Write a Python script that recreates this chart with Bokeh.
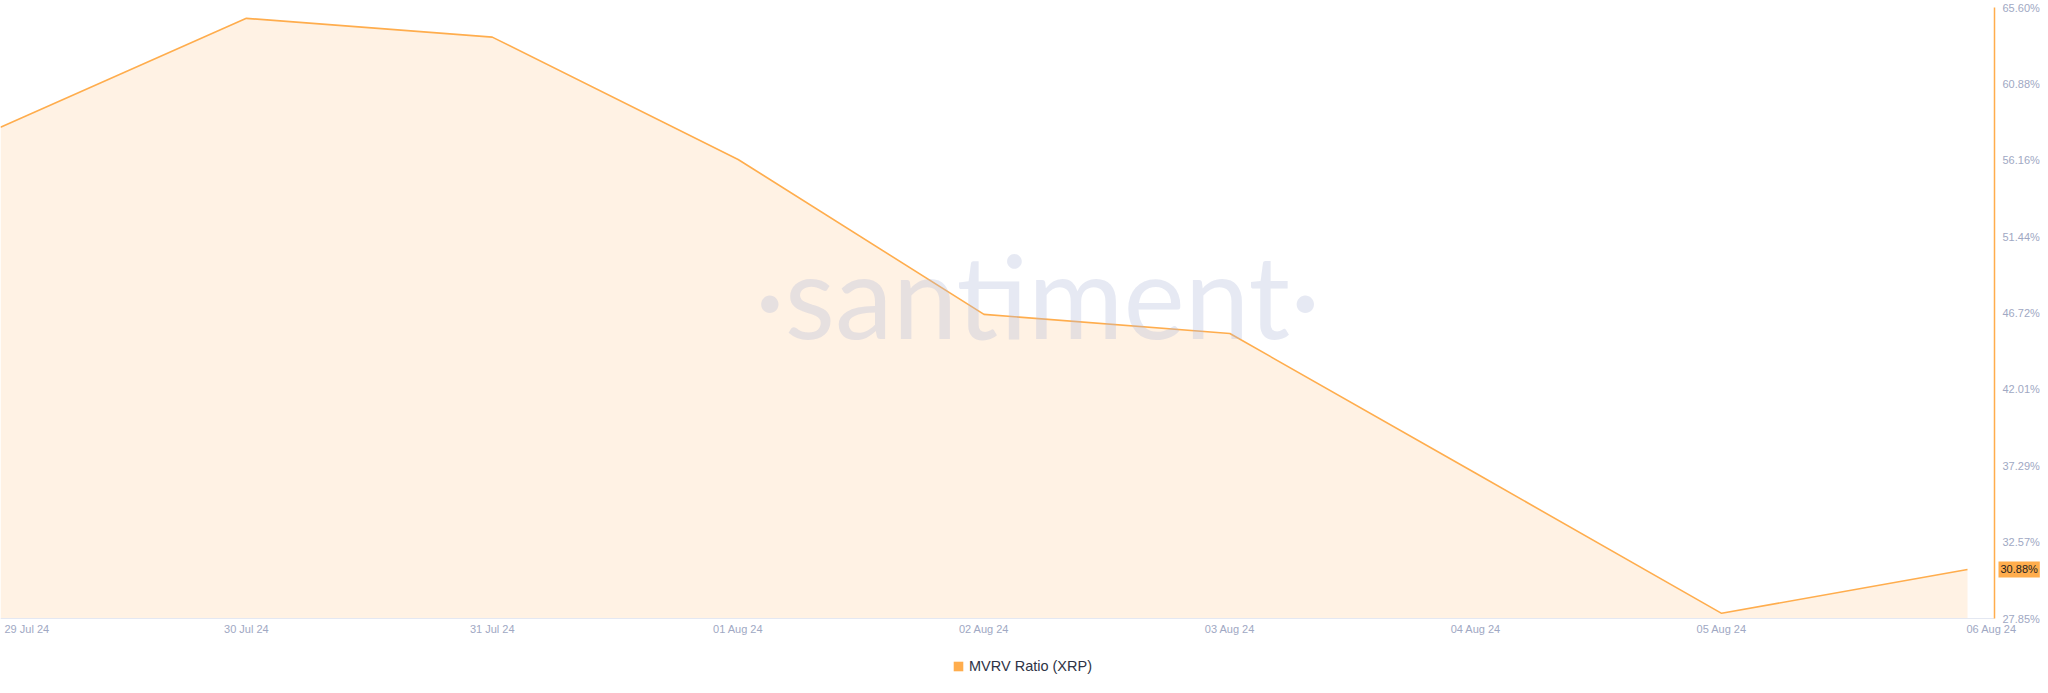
from datetime import datetime, timedelta

from bokeh.embed import file_html
from bokeh.models import (FixedTicker, Label, Legend, LegendItem, PrintfTickFormatter,
                          Range1d, ColumnDataSource)
from bokeh.plotting import figure
from bokeh.resources import INLINE

# ---- data ----
dates = ["2024-07-29", "2024-07-30", "2024-07-31", "2024-08-01", "2024-08-02",
         "2024-08-03", "2024-08-04", "2024-08-05", "2024-08-06"]
date_labels = ["29 Jul 24", "30 Jul 24", "31 Jul 24", "01 Aug 24", "02 Aug 24",
               "03 Aug 24", "04 Aug 24", "05 Aug 24", "06 Aug 24"]
mvrv_pct = [58.20, 64.93, 63.77, 56.21, 46.64, 45.46, 36.82, 28.17, 30.88]
y_ticks = [27.85, 32.57, 37.29, 42.01, 46.72, 51.44, 56.16, 60.88, 65.60]
series_name = "MVRV Ratio (XRP)"
watermark = "\u00b7santiment\u00b7"

# ---- styles ----
ORANGE = "#ffad4d"
FILL = "#fff2e4"
TICK_COLOR = "#a0a8c3"
FONT = "Liberation Sans"

W, H = 2040, 685
TOP_PAD, AXIS_Y = 7, 618          # pixel rows of the top and bottom y ticks
PX_PER_PCT = (AXIS_Y - TOP_PAD) / (y_ticks[-1] - y_ticks[0])
PX_PER_DAY = 1967 / 8.0

x = [datetime.strptime(d, "%Y-%m-%d") for d in dates]
epoch = datetime(1970, 1, 1)
x_ms = [(d - epoch).total_seconds() * 1000 for d in x]
axis_x = x[-1] + timedelta(days=27 / PX_PER_DAY)      # where the value axis is drawn
axis_x_ms = (axis_x - epoch).total_seconds() * 1000
x_end = x[0] + timedelta(days=W / PX_PER_DAY)
y_start = y_ticks[0] - (H - AXIS_Y) / PX_PER_PCT
y_end = y_ticks[-1] + TOP_PAD / PX_PER_PCT

src = ColumnDataSource(dict(x=x, y=mvrv_pct, base=[y_ticks[0]] * len(x)))

p = figure(width=W, height=H, x_axis_type="datetime", y_axis_location="right",
           output_backend="svg", toolbar_location=None,
           x_range=Range1d(x[0], x_end), y_range=Range1d(y_start, y_end),
           min_border=0)
p.outline_line_color = None
p.grid.visible = False
p.background_fill_color = "white"
p.border_fill_color = "white"

p.varea(x="x", y1="base", y2="y", source=src, fill_color=FILL)
p.line(x="x", y="y", source=src, line_color=ORANGE, line_width=1.6)

# x axis
xa = p.xaxis[0]
xa.fixed_location = y_ticks[0]
xa.bounds = (x_ms[0], axis_x_ms)
xa.ticker = FixedTicker(ticks=x_ms)
overrides = {t: lab for t, lab in zip(x_ms, date_labels)}
overrides[x_ms[0]] = ""
overrides[x_ms[-1]] = ""
xa.major_label_overrides = overrides
xa.axis_line_color = "#e4e8f2"
xa.major_tick_line_color = None
xa.minor_tick_line_color = None
xa.major_label_text_color = TICK_COLOR
xa.major_label_text_font = FONT
xa.major_label_text_font_size = "11px"
xa.major_label_standoff = -2

for xv, lab, off in [(x[0], date_labels[0], 4), (x[-1], date_labels[-1], -1)]:
    p.add_layout(Label(x=xv, y=y_ticks[0], x_units="data", y_units="data", x_offset=off,
                       y_offset=-4, text=lab, text_align="left", text_baseline="top",
                       text_color=TICK_COLOR, text_font=FONT, text_font_size="11px"))

# y axis (right)
ya = p.yaxis[0]
ya.fixed_location = axis_x_ms
ya.bounds = (y_ticks[0], y_ticks[-1])
ya.ticker = FixedTicker(ticks=y_ticks)
ya.formatter = PrintfTickFormatter(format="%.2f%%")
ya.axis_line_color = ORANGE
ya.axis_line_width = 1.5
ya.major_tick_line_color = None
ya.minor_tick_line_color = None
ya.major_label_text_color = TICK_COLOR
ya.major_label_text_font = FONT
ya.major_label_text_font_size = "11px"
ya.major_label_standoff = 2

# last value badge
p.add_layout(Label(x=axis_x, y=mvrv_pct[-1], x_units="data", y_units="data",
                   x_offset=4, text=f"{mvrv_pct[-1]:.2f}%", text_align="left",
                   text_baseline="middle", text_color="#1d1d1f", text_font=FONT,
                   text_font_size="11px", background_fill_color=ORANGE,
                   padding=2))

# watermark
p.add_layout(Label(x=1037, y=391, x_units="screen", y_units="screen", text=watermark,
                   text_align="center", text_baseline="alphabetic",
                   text_font="Lato", text_font_size="116px",
                   text_color="#acb6d7", text_alpha=0.3))

# legend (swatch renderer built from the last data point; draws nothing itself)
swatch = p.varea(x=x[-1:], y1=mvrv_pct[-1:], y2=mvrv_pct[-1:], fill_color=ORANGE)
legend = Legend(items=[LegendItem(label=series_name, renderers=[swatch])],
                location=(952, 9), padding=0, margin=0, border_line_alpha=0,
                background_fill_alpha=0, glyph_width=12, glyph_height=12,
                label_height=20, label_standoff=5, label_text_font=FONT,
                label_text_font_size="14.5px", label_text_color="#2e3345")
p.add_layout(legend, "center")

open("out.html", "w").write(file_html(p, INLINE))
